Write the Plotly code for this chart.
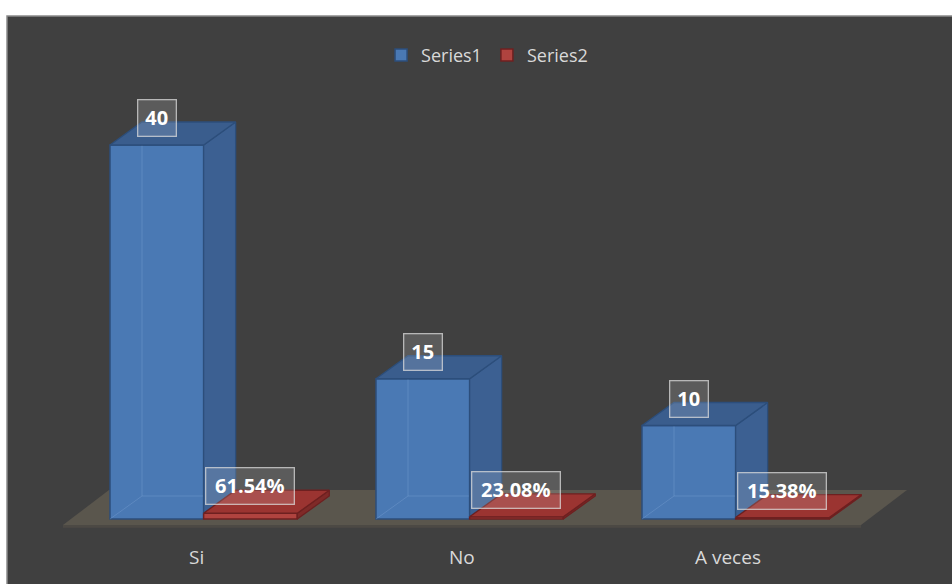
import plotly.graph_objects as go

# ---- data ----
categories = ["Si", "No", "A veces"]
series1 = [40, 15, 10]
series2 = [0.6154, 0.2308, 0.1538]
series_names = ["Series1", "Series2"]

# ---- geometry / styling (axis units) ----
X_RANGE = [(7 - 196) / 266, (952 - 196) / 266]
Y_RANGE = [-(584 - 519) / 9.35, (519 - 16) / 9.35]
BAR_W = 0.352
OFF1 = -0.3233
OFF2 = OFF1 + BAR_W
DX = 32 / 266
DY = 23 / 9.35
LABEL_UP = 27 / 9.35
CAT_Y = (519 - 557) / 9.35

BG = "#404040"
BLUE = dict(front="#4a79b4", side="#3c6092", top="#3a5d8d", edge="#2c4e7b")
RED = dict(front="#b0433f", side="#7f2a28", top="#9b3431", edge="#6e2020")

xs = list(range(len(categories)))

fig = go.Figure()

# front faces
fig.add_trace(go.Bar(x=xs, y=series1, width=BAR_W, offset=OFF1, name=series_names[0],
                     marker=dict(color=BLUE["front"], line=dict(color=BLUE["edge"], width=1.5)),
                     hoverinfo="skip"))
fig.add_trace(go.Bar(x=xs, y=series2, width=BAR_W, offset=OFF2, name=series_names[1],
                     marker=dict(color=RED["front"], line=dict(color=RED["edge"], width=1.5)),
                     hoverinfo="skip"))


def poly_trace(polys, fill, edge):
    px, py = [], []
    for p in polys:
        for (a, b) in p + [p[0]]:
            px.append(a)
            py.append(b)
        px.append(None)
        py.append(None)
    return go.Scatter(x=px, y=py, mode="lines", fill="toself", fillcolor=fill,
                      line=dict(color=edge, width=1.3), showlegend=False, hoverinfo="skip")


# faint hidden (back) edges seen through the front face
hx, hy = [], []
for i, v in zip(xs, series1):
    xl = i + OFF1
    xr = xl + BAR_W
    hx += [xl, xl + DX, xl + DX, None, xl + DX, xr, None]
    hy += [0, DY, v + DY, None, DY, DY, None]
fig.add_trace(go.Scatter(x=hx, y=hy, mode="lines", line=dict(color="rgba(130,165,215,0.35)", width=1),
                         showlegend=False, hoverinfo="skip"))

# Series1 side faces (visible above the adjacent Series2 block) and top faces
side1, top1 = [], []
for i, v, r in zip(xs, series1, series2):
    xl = i + OFF1
    xr = xl + BAR_W
    side1.append([(xr, r), (xr + DX, r + DY), (xr + DX, v + DY), (xr, v)])
    top1.append([(xl, v), (xr, v), (xr + DX, v + DY), (xl + DX, v + DY)])
fig.add_trace(poly_trace(side1, BLUE["side"], BLUE["edge"]))
fig.add_trace(poly_trace(top1, BLUE["top"], BLUE["edge"]))

# Series2 side and top faces
side2, top2 = [], []
for i, r in zip(xs, series2):
    xl = i + OFF2
    xr = xl + BAR_W
    side2.append([(xr, 0), (xr + DX, DY), (xr + DX, r + DY), (xr, r)])
    top2.append([(xl, r), (xr, r), (xr + DX, r + DY), (xl + DX, r + DY)])
fig.add_trace(poly_trace(side2, RED["side"], RED["edge"]))
fig.add_trace(poly_trace(top2, RED["top"], RED["edge"]))

# floor
fl_front, fl_back = -0.642, 3.10
fl_x0, fl_x1 = -0.5, len(categories) - 0.5
fl_dx = 46 / 266
shapes = [
    dict(type="path", xref="x", yref="y", layer="below",
         path=f"M{fl_x0},{fl_front} L{fl_x1},{fl_front} L{fl_x1 + fl_dx},{fl_back} L{fl_x0 + fl_dx},{fl_back} Z",
         fillcolor="#5a564d", line=dict(width=0)),
    dict(type="path", xref="x", yref="y", layer="below",
         path=f"M{fl_x0},{fl_front} L{fl_x1},{fl_front} L{fl_x1},{fl_front - 0.3} L{fl_x0},{fl_front - 0.3} Z",
         fillcolor="#4c4944", line=dict(width=0)),
    dict(type="rect", xref="paper", yref="paper", x0=0, x1=1.01, y0=-0.01, y1=1,
         line=dict(color="#8a8a8a", width=1.5), fillcolor="rgba(0,0,0,0)"),
]

annotations = []
lab_font = dict(family="Open Sans", size=20, color="white")
for i, v in zip(xs, series1):
    annotations.append(dict(x=i + OFF1 + BAR_W / 2, y=v + LABEL_UP, xref="x", yref="y",
                            text=f"<b>{v}</b>", showarrow=False, font=lab_font,
                            bgcolor="rgba(255,255,255,0.14)", bordercolor="rgba(220,220,220,0.75)",
                            borderwidth=1.3, borderpad=1, width=35, height=33))
for i, r in zip(xs, series2):
    annotations.append(dict(x=i + OFF2 + BAR_W / 2, y=r + LABEL_UP, xref="x", yref="y",
                            text=f"<b>{r:.2%}</b>", showarrow=False, font=lab_font,
                            bgcolor="rgba(255,255,255,0.14)", bordercolor="rgba(220,220,220,0.75)",
                            borderwidth=1.3, borderpad=1, width=85, height=33))
for i, c in zip(xs, categories):
    annotations.append(dict(x=i, y=CAT_Y, xref="x", yref="y", text=c, showarrow=False,
                            font=dict(family="Open Sans", size=19, color="#d9d9d9")))

fig.update_layout(
    width=952, height=584,
    margin=dict(l=7, r=0, t=16, b=0),
    paper_bgcolor="white", plot_bgcolor=BG,
    barmode="overlay",
    xaxis=dict(range=X_RANGE, visible=False, fixedrange=True),
    yaxis=dict(range=Y_RANGE, visible=False, fixedrange=True),
    showlegend=True,
    legend=dict(orientation="h", x=0.508, xanchor="center", y=0.931, yanchor="middle",
                font=dict(family="Open Sans", size=18, color="#d9d9d9"),
                bgcolor="rgba(0,0,0,0)", itemwidth=30),
    shapes=shapes,
    annotations=annotations,
    hovermode=False,
)

fig.write_html("out.html")
